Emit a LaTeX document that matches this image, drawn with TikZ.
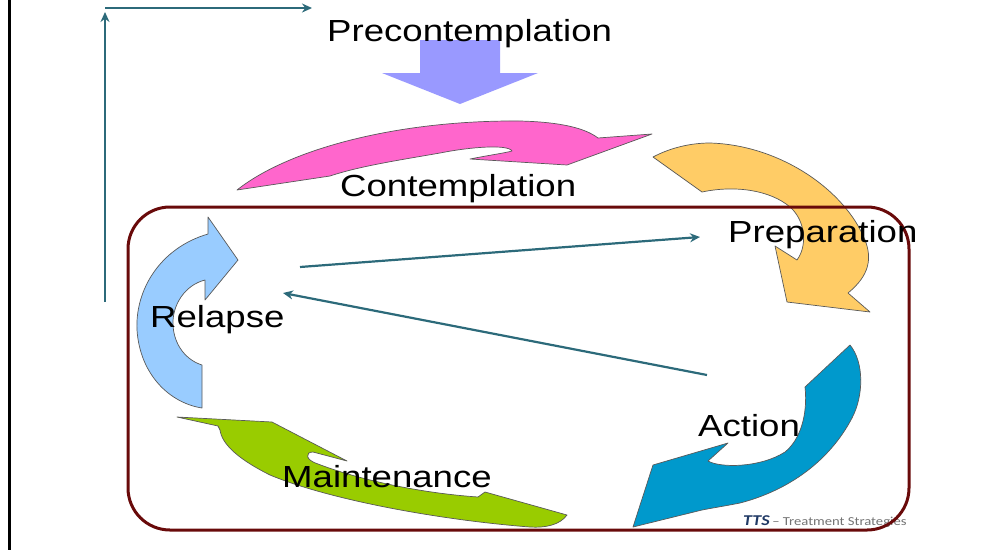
\documentclass[tikz,border=0pt]{standalone}
\usepackage{fontspec}
\setmainfont{Liberation Sans}
\newfontfamily\footfont{Carlito}
\usetikzlibrary{arrows.meta}

\definecolor{precolor}{RGB}{153,153,255}
\definecolor{concolor}{RGB}{255,102,204}
\definecolor{prepcolor}{RGB}{255,204,102}
\definecolor{actcolor}{RGB}{0,153,204}
\definecolor{maincolor}{RGB}{153,204,0}
\definecolor{relcolor}{RGB}{153,204,255}
\definecolor{linkcolor}{RGB}{44,106,122}
\definecolor{boxcolor}{RGB}{105,10,10}
\definecolor{ttscolor}{RGB}{31,56,100}

\newcommand{\stretchtext}[1]{\scalebox{1.2}[1]{#1}}

\tikzset{
    stage/.style={draw=black!65, line width=0.7pt, line join=round},
    stagelabel/.style={anchor=base west, inner sep=0pt, font=\fontsize{30.5}{34}\selectfont},
    link/.style={->, draw=linkcolor, line width=2.2pt},
}

\begin{document}
\begin{tikzpicture}[x=1pt, y=-1pt, >={Stealth[length=10pt,width=9pt]}]
    \useasboundingbox (0,0) rectangle (1004,550);
    \draw[line width=3pt] (9,0) -- (9,550);

    % stage arrows
    \fill[precolor] (420,40) -- (500,40) -- (500,73) -- (538,73) -- (460,104)
        -- (382,73) -- (420,73) -- cycle;

    \draw[stage, fill=concolor]
        (237,190) .. controls (290,148) and (400,120) .. (520,121)
        .. controls (560,122) and (585,128) .. (598,138) -- (652,134) -- (567,165)
        -- (470,159) .. controls (490,155) and (505,153) .. (512,151)
        .. controls (508,144) and (470,147) .. (440,153)
        .. controls (400,160) and (360,166) .. (330,176) -- cycle;

    \draw[stage, fill=prepcolor]
        (653,157) .. controls (670,148) and (690,143) .. (710,143)
        .. controls (780,145) and (845,190) .. (865,240)
        .. controls (872,258) and (870,275) .. (848,293) -- (870,312) -- (787,302)
        -- (775,246) -- (797,260) .. controls (808,245) and (805,220) .. (790,207)
        .. controls (770,190) and (735,185) .. (702,192) -- cycle;

    \draw[stage, fill=actcolor]
        (805,387) -- (850,345) .. controls (864,362) and (864,395) .. (852,418)
        .. controls (830,460) and (790,490) .. (740,503)
        .. controls (725,506) and (712,508) .. (702,510) -- (633,527) -- (653,465)
        -- (728,443) -- (708,461) .. controls (720,468) and (760,468) .. (785,452)
        .. controls (800,440) and (808,415) .. cycle;

    \draw[stage, fill=maincolor]
        (177,417) -- (272,422) -- (347,461) -- (313,452)
        .. controls (305,452) and (305,460) .. (318,464)
        .. controls (360,480) and (420,493) .. (478,497) -- (485,492) -- (567,515)
        .. controls (560,525) and (545,528) .. (530,527)
        .. controls (440,520) and (330,500) .. (270,475)
        .. controls (240,460) and (222,445) .. (220,430) -- (218,426) -- cycle;

    \draw[stage, fill=relcolor]
        (202,408) .. controls (170,403) and (140,375) .. (137,330)
        .. controls (135,290) and (160,248) .. (208,234) -- (208,217) -- (238,260)
        -- (205,300) -- (205,280) .. controls (185,285) and (172,305) .. (173,325)
        .. controls (174,345) and (186,360) .. (202,365) -- cycle;

    \node[anchor=base west, inner sep=0pt] (tts) at (743,525)
        {\stretchtext{\footfont{\fontsize{15}{18}\selectfont\color{ttscolor}\bfseries\itshape TTS}
        {\fontsize{12.2}{14}\selectfont\color{black!55}– Treatment Strategies}}};

    \draw[draw=boxcolor, line width=3pt, rounded corners=42pt] (128,207) rectangle (909,530);

    % links
    \coordinate (relout) at (300,267);
    \coordinate (prepin) at (700,237);
    \coordinate (actout) at (707,375);
    \coordinate (relin) at (283,293);
    \coordinate (loopstart) at (105,302);
    \coordinate (loopcorner) at (105,12);
    \coordinate (looptop) at (312,8);
    \draw[link] (relout) -- (prepin);
    \draw[link] (actout) -- (relin);
    \draw[link] (loopstart) -- (loopcorner);
    \draw[link] (loopcorner |- looptop) -- (looptop);

    % labels
    \node[stagelabel] (pre) at (327,41) {\stretchtext{Precontemplation}};
    \node[stagelabel] (con) at (340,196) {\stretchtext{Contemplation}};
    \node[stagelabel] (prep) at (728,242) {\stretchtext{Preparation}};
    \node[stagelabel] (rel) at (150,327) {\stretchtext{Relapse}};
    \node[stagelabel] (act) at (698,436) {\stretchtext{Action}};
    \node[stagelabel] (main) at (282,487) {\stretchtext{Maintenance}};
\end{tikzpicture}
\end{document}
